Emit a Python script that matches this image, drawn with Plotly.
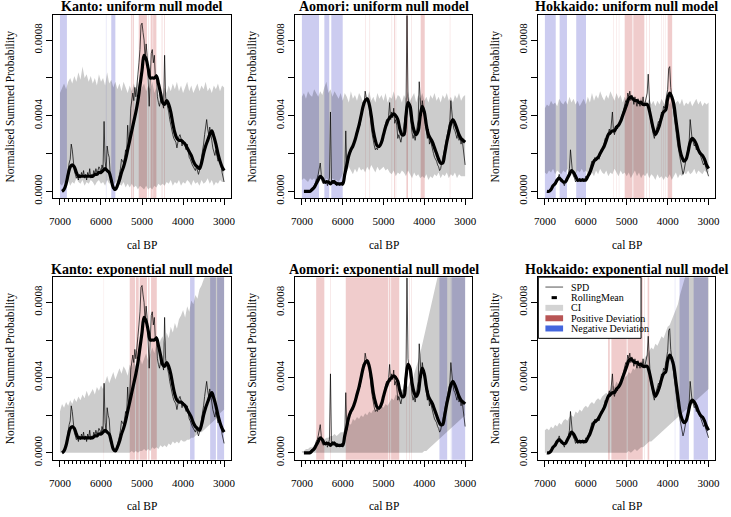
import plotly.graph_objects as go

# ---------------- data (probability values in units of 1e-5) ----------------
UNIT = 1e-5
CI_YEARS = list(range(7000, 2999, -50))      # 81 years
RM_YEARS = list(range(6950, 2999, -50))      # 80 years
SPD_YEARS = list(range(6950, 2999, -25))     # 159 years

# --- Kanto ---
KANTO_SPD = [
    0, 0, 1, 2, 4, 8, 12, 15, 17, 25,
    22, 14, 11, 9, 7, 8, 6, 9, 7, 10,
    8, 11, 7, 9, 6, 10, 8, 12, 7, 9,
    8, 11, 9, 12, 10, 11, 13, 12, 10, 14,
    12, 37, 16, 11, 24, 20, 18, 9, 6, 3,
    2, 1, 1, 2, 4, 6, 9, 12, 17, 16,
    15, 18, 22, 20, 35, 24, 30, 44, 50, 52,
    48, 55, 50, 58, 62, 68, 75, 88, 89, 84,
    80, 70, 78, 72, 55, 45, 60, 73, 75, 68,
    72, 60, 62, 50, 47, 45, 48, 52, 47, 44,
    72, 50, 47, 45, 42, 38, 35, 31, 30, 28,
    27, 26, 23, 27, 29, 30, 28, 24, 27, 26,
    24, 22, 25, 20, 18, 17, 15, 14, 13, 12,
    11, 13, 10, 9, 11, 14, 18, 21, 25, 30,
    36, 38, 33, 30, 34, 29, 27, 23, 21, 19,
    22, 18, 16, 17, 15, 14, 10, 7, 5]
KANTO_RM = [
    0, 1, 4, 9, 13, 14, 13, 10, 8, 8,
    8, 8, 8, 8, 8, 8, 9, 9, 10, 10,
    11, 12, 11, 10, 6, 2, 1, 3, 6, 10,
    13, 17, 22, 27, 32, 37, 42, 48, 56, 64,
    72, 70, 65, 60, 60, 60, 61, 57, 52, 47,
    46, 48, 46, 42, 36, 31, 28, 27, 27, 26,
    25, 23, 21, 19, 16, 14, 13, 12, 15, 20,
    24, 27, 30, 32, 29, 25, 20, 16, 13, 11]

# --- Aomori ---
AOMORI_SPD = [
    0, 0, 0, 0, 0, 0, 1, 1, 2, 2,
    3, 4, 6, 7, 9, 12, 15, 9, 5, 4,
    5, 4, 6, 3, 5, 7, 42, 5, 6, 4,
    6, 4, 3, 5, 4, 3, 4, 5, 3, 6,
    9, 32, 12, 16, 20, 22, 21, 24, 23, 26,
    27, 29, 30, 33, 36, 35, 40, 44, 47, 46,
    53, 50, 49, 48, 45, 38, 34, 30, 26, 24,
    22, 23, 22, 24, 23, 25, 27, 26, 30, 33,
    36, 38, 35, 40, 47, 38, 42, 39, 44, 36,
    38, 35, 28, 30, 27, 26, 29, 31, 35, 38,
    42, 93, 50, 46, 40, 34, 31, 28, 30, 27,
    30, 34, 38, 58, 46, 40, 48, 44, 38, 34,
    30, 28, 33, 25, 27, 24, 22, 20, 18, 17,
    16, 14, 13, 11, 12, 15, 17, 20, 23, 26,
    28, 30, 35, 37, 48, 40, 36, 33, 32, 30,
    28, 31, 27, 29, 25, 28, 24, 18, 14]
AOMORI_RM = [
    0, 0, 0, 0, 1, 2, 4, 6, 8, 7,
    5, 5, 5, 4, 5, 5, 4, 4, 4, 4,
    9, 14, 19, 22, 24, 27, 31, 35, 40, 45,
    48, 49, 46, 40, 32, 27, 24, 24, 26, 30,
    34, 37, 39, 40, 41, 40, 38, 33, 30, 30,
    40, 47, 45, 37, 32, 30, 32, 40, 45, 42,
    35, 30, 28, 26, 23, 20, 17, 15, 15, 20,
    26, 31, 36, 38, 36, 33, 30, 28, 27, 26]

# --- Hokkaido ---
HOKKAIDO_SPD = [
    0, 0, 0, 1, 1, 2, 3, 4, 5, 4,
    6, 8, 9, 7, 5, 6, 4, 3, 5, 7,
    6, 9, 12, 22, 15, 10, 8, 7, 5, 6,
    5, 6, 7, 5, 6, 7, 5, 6, 8, 7,
    9, 10, 12, 15, 16, 15, 17, 18, 16, 17,
    18, 17, 20, 22, 21, 24, 26, 28, 27, 29,
    31, 33, 30, 35, 42, 32, 30, 33, 35, 33,
    36, 35, 38, 40, 41, 44, 45, 48, 47, 52,
    50, 53, 48, 51, 49, 46, 50, 48, 45, 49,
    47, 45, 48, 46, 50, 45, 47, 49, 52, 62,
    48, 40, 36, 34, 30, 28, 31, 33, 35, 37,
    36, 40, 42, 41, 45, 44, 47, 50, 54, 65,
    66, 55, 50, 45, 40, 36, 33, 28, 24, 21,
    18, 14, 10, 9, 11, 14, 17, 20, 23, 26,
    38, 30, 27, 26, 24, 25, 22, 23, 21, 20,
    19, 17, 16, 14, 15, 13, 11, 9, 8]
HOKKAIDO_RM = [
    0, 0, 1, 3, 4, 6, 7, 6, 5, 5,
    7, 9, 11, 10, 8, 6, 6, 6, 6, 6,
    8, 10, 13, 16, 17, 18, 20, 22, 24, 27,
    30, 31, 32, 32, 34, 35, 37, 40, 43, 46,
    49, 50, 49, 48, 48, 47, 47, 46, 46, 46,
    43, 38, 33, 30, 32, 35, 39, 42, 43, 49,
    52, 50, 46, 38, 30, 22, 18, 16, 17, 21,
    26, 28, 27, 25, 22, 20, 19, 17, 14, 12]

# --- simulation envelopes (CI), uniform null model ---
KANTO_UNI_HI = [
    52, 55, 57, 54, 58, 60, 57, 61, 58, 63,
    59, 66, 60, 62, 58, 61, 57, 60, 56, 62,
    58, 60, 56, 63, 57, 59, 55, 58, 54, 57,
    53, 58, 55, 52, 56, 53, 57, 54, 58, 52,
    55, 57, 53, 56, 54, 58, 52, 55, 51, 54,
    50, 55, 52, 56, 53, 57, 54, 58, 53, 56,
    52, 55, 58, 53, 56, 52, 55, 57, 53, 56,
    54, 58, 53, 55, 52, 56, 54, 57, 53, 56,
    55]
KANTO_UNI_LO = [
    4, 3, 5, 4, 6, 3, 5, 4, 7, 5,
    4, 6, 3, 5, 4, 6, 5, 3, 5, 6,
    4, 5, 3, 6, 4, 5, 3, 5, 2, 4,
    3, 5, 2, 4, 2, 4, 2, 3, 1, 3,
    2, 1, 3, 1, 2, 1, 3, 2, 4, 3,
    4, 3, 5, 4, 6, 3, 5, 4, 6, 3,
    5, 4, 6, 5, 3, 6, 4, 5, 3, 6,
    4, 5, 7, 4, 6, 3, 5, 4, 6, 5,
    5]
AOMORI_UNI_HI = [
    50, 52, 49, 53, 51, 50, 54, 52, 50, 53,
    51, 55, 58, 52, 54, 50, 53, 51, 49, 52,
    48, 52, 50, 47, 53, 49, 51, 48, 52, 50,
    47, 51, 49, 53, 48, 50, 47, 52, 49, 51,
    48, 52, 47, 50, 49, 53, 48, 51, 50, 47,
    51, 49, 53, 48, 50, 52, 47, 51, 49, 52,
    48, 50, 47, 51, 49, 52, 48, 50, 47, 51,
    49, 52, 48, 50, 47, 51, 49, 52, 48, 50,
    51]
AOMORI_UNI_LO = [
    6, 7, 6, 5, 7, 6, 7, 5, 6, 7,
    6, 5, 7, 6, 5, 7, 6, 6, 5, 7,
    9, 12, 10, 13, 11, 9, 12, 10, 13, 11,
    12, 10, 13, 11, 14, 12, 10, 13, 11, 12,
    13, 11, 12, 10, 9, 11, 8, 10, 9, 11,
    10, 8, 11, 9, 7, 10, 8, 9, 7, 8,
    7, 9, 6, 8, 7, 9, 8, 10, 7, 9,
    8, 10, 7, 9, 8, 10, 7, 9, 8, 8,
    8]
HOKKAIDO_UNI_HI = [
    44, 46, 45, 48, 46, 47, 45, 49, 47, 46,
    48, 46, 50, 47, 49, 46, 48, 45, 47, 49,
    46, 50, 47, 52, 48, 51, 49, 53, 50, 48,
    51, 49, 53, 50, 48, 52, 49, 51, 47, 50,
    48, 51, 47, 50, 46, 49, 47, 50, 46, 48,
    47, 49, 46, 48, 45, 48, 46, 49, 47, 45,
    48, 46, 49, 45, 47, 48, 46, 49, 45, 47,
    46, 48, 45, 47, 49, 46, 48, 45, 47, 46,
    47]
HOKKAIDO_UNI_LO = [
    10, 9, 11, 10, 12, 9, 11, 10, 9, 11,
    10, 12, 9, 11, 10, 9, 11, 10, 12, 10,
    11, 9, 12, 10, 8, 11, 9, 12, 10, 9,
    11, 8, 10, 9, 12, 10, 8, 11, 9, 10,
    8, 10, 7, 9, 11, 8, 10, 7, 9, 8,
    10, 7, 9, 8, 6, 9, 7, 8, 6, 8,
    7, 9, 6, 8, 10, 7, 9, 8, 10, 9,
    11, 9, 10, 12, 9, 11, 10, 9, 11, 10,
    10]

# --- simulation envelopes (CI), exponential null model ---
KANTO_EXP_HI = [
    22, 26, 24, 27, 25, 28, 26, 29, 27, 30,
    28, 31, 29, 33, 30, 32, 34, 31, 35, 33,
    36, 34, 38, 41, 37, 40, 43, 39, 42, 45,
    42, 46, 44, 41, 47, 45, 49, 46, 48, 51,
    47, 50, 53, 49, 52, 56, 53, 58, 55, 60,
    62, 58, 64, 61, 67, 64, 69, 66, 71, 73,
    76, 72, 78, 75, 81, 79, 84, 82, 87, 89,
    92, 95, 97, 99, 99, 99, 99, 99, 99, 99,
    99]
KANTO_EXP_LO = [
    0, 0, 0, 0, 0, 0, 0, 0, 0, 0,
    0, 0, 0, 0, 0, 0, 0, 0, 0, 0,
    0, 0, 0, 0, 0, 0, 0, 0, 0, 0,
    0, 0, 0, 0, 0, 1, 0, 1, 0, 1,
    1, 2, 1, 2, 1, 3, 2, 3, 2, 4,
    3, 4, 3, 5, 4, 6, 5, 6, 5, 7,
    6, 6, 7, 7, 8, 8, 9, 10, 11, 11,
    12, 13, 14, 15, 16, 17, 18, 19, 21, 22,
    23]
AOMORI_EXP_HI = [
    1, 1, 2, 2, 3, 3, 4, 4, 5, 6,
    6, 7, 8, 8, 9, 9, 10, 9, 10, 11,
    11, 12, 14, 16, 15, 18, 17, 19, 18, 20,
    19, 21, 20, 22, 21, 23, 22, 24, 23, 25,
    24, 26, 25, 27, 29, 28, 31, 30, 33, 34,
    33, 36, 35, 38, 37, 42, 45, 49, 53, 58,
    63, 67, 72, 77, 82, 87, 92, 96, 99, 99,
    99, 99, 99, 99, 99, 99, 99, 99, 99, 99,
    99]
AOMORI_EXP_LO = [
    0, 0, 0, 0, 0, 0, 0, 0, 0, 0,
    0, 0, 0, 0, 0, 0, 0, 0, 0, 0,
    0, 0, 0, 0, 0, 0, 0, 0, 0, 0,
    0, 0, 0, 0, 0, 0, 0, 0, 0, 0,
    0, 0, 0, 0, 0, 0, 0, 0, 0, 0,
    0, 0, 0, 0, 0, 0, 0, 0, 0, 0,
    1, 1, 2, 3, 4, 5, 6, 7, 8, 9,
    10, 11, 12, 13, 14, 15, 16, 17, 18, 19,
    20]
HOKKAIDO_EXP_HI = [
    12, 13, 12, 14, 13, 15, 14, 16, 15, 17,
    18, 17, 19, 20, 19, 22, 21, 23, 22, 24,
    25, 24, 26, 27, 26, 28, 29, 28, 30, 31,
    32, 31, 34, 36, 35, 38, 36, 39, 38, 40,
    41, 43, 42, 45, 44, 47, 46, 49, 48, 51,
    52, 54, 56, 55, 58, 57, 60, 62, 61, 64,
    67, 68, 71, 73, 76, 79, 84, 88, 92, 96,
    99, 99, 99, 99, 99, 99, 99, 99, 99, 99,
    99]
HOKKAIDO_EXP_LO = [
    0, 0, 0, 0, 0, 0, 0, 0, 0, 0,
    0, 0, 0, 0, 0, 0, 0, 0, 0, 0,
    0, 0, 0, 0, 0, 0, 0, 0, 0, 0,
    0, 0, 0, 0, 0, 0, 0, 0, 0, 0,
    0, 1, 0, 1, 2, 1, 2, 3, 3, 4,
    5, 6, 6, 7, 8, 9, 10, 11, 12, 13,
    14, 15, 16, 17, 18, 19, 20, 21, 22, 23,
    24, 25, 26, 27, 28, 29, 30, 31, 32, 33,
    34]

# --- significant deviations (cal BP intervals: start, end) ---
KANTO_UNI_POS = [(5270, 5250), (5230, 5200), (5080, 4880), (4850, 4840),
                 (4790, 4740), (4730, 4650), (4520, 4505), (4460, 4445)]
KANTO_UNI_NEG = [(7000, 6830), (5880, 5870), (5750, 5650)]
AOMORI_UNI_POS = [(5450, 5440), (5340, 5330), (4800, 4790), (4740, 4720),
                  (4700, 4690), (4440, 4400), (4320, 4310), (4090, 3990),
                  (3375, 3365)]
AOMORI_UNI_NEG = [(7000, 6580), (6450, 6330), (6280, 6000)]
HOKKAIDO_UNI_POS = [(5320, 5312), (5258, 5250), (5192, 5184), (5050, 4860),
                    (4840, 4570), (4515, 4505), (4452, 4440), (4162, 4154),
                    (4114, 4106), (4066, 4058), (4000, 3890)]
HOKKAIDO_UNI_NEG = [(7000, 6735), (6640, 6460), (6235, 5995)]
KANTO_EXP_POS = [(5300, 5170), (5150, 5080), (5060, 4880), (4850, 4820),
                 (4780, 4640), (5932, 5926)]
KANTO_EXP_NEG = [(3830, 3720), (3340, 3200), (3170, 3000)]
AOMORI_EXP_POS = [(6650, 6450), (6310, 6300), (5925, 4885), (4870, 4830),
                  (4815, 4615), (4440, 4430), (4375, 4365), (4320, 4310)]
AOMORI_EXP_NEG = [(3630, 3440), (3350, 3335), (3320, 3000)]
HOKKAIDO_EXP_POS = [(5455, 5415), (5375, 5000), (4980, 4610), (4575, 4565),
                    (4490, 4450)]
HOKKAIDO_EXP_NEG = [(3825, 3815), (3710, 3480), (3365, 3015)]

REGION_SERIES = {
    "Kanto": (KANTO_SPD, KANTO_RM),
    "Aomori": (AOMORI_SPD, AOMORI_RM),
    "Hokkaido": (HOKKAIDO_SPD, HOKKAIDO_RM),
}
PANELS = [
    ("Kanto", "uniform", KANTO_UNI_LO, KANTO_UNI_HI, KANTO_UNI_POS, KANTO_UNI_NEG),
    ("Aomori", "uniform", AOMORI_UNI_LO, AOMORI_UNI_HI, AOMORI_UNI_POS, AOMORI_UNI_NEG),
    ("Hokkaido", "uniform", HOKKAIDO_UNI_LO, HOKKAIDO_UNI_HI, HOKKAIDO_UNI_POS, HOKKAIDO_UNI_NEG),
    ("Kanto", "exponential", KANTO_EXP_LO, KANTO_EXP_HI, KANTO_EXP_POS, KANTO_EXP_NEG),
    ("Aomori", "exponential", AOMORI_EXP_LO, AOMORI_EXP_HI, AOMORI_EXP_POS, AOMORI_EXP_NEG),
    ("Hokkaido", "exponential", HOKKAIDO_EXP_LO, HOKKAIDO_EXP_HI, HOKKAIDO_EXP_POS, HOKKAIDO_EXP_NEG),
]

X_TICKS = [7000, 6000, 5000, 4000, 3000]
X_MINOR = list(range(3100, 7000, 100))
Y_TICKS = [0, 0.0002, 0.0004, 0.0006, 0.0008]
Y_TICKTEXT = ["0.0000", "", "0.0004", "", "0.0008"]

# ---------------- layout geometry ----------------
W, H = 731, 517
COL_PX = [(50, 229.5), (295, 473.5), (541, 720)]
ROW_PX = [(15, 201), (281, 466)]
FONT = "Liberation Serif, Times New Roman, serif"
POS_COL = "rgba(179,0,0,0.2)"
NEG_COL = "rgba(0,0,179,0.2)"

fig = go.Figure()
layout = dict(width=W, height=H, margin=dict(l=0, r=0, t=0, b=0),
              paper_bgcolor="white", plot_bgcolor="white", showlegend=False,
              font=dict(family=FONT, color="black", size=11))
shapes, annotations = [], []

for i, (region, model, lo, hi, pos, neg) in enumerate(PANELS):
    n = i + 1
    sfx = "" if n == 1 else str(n)
    r, c = divmod(i, 3)
    x0p, x1p = COL_PX[c]
    y0p, y1p = ROW_PX[r]
    xa, ya = "x" + sfx, "y" + sfx
    spd, rm = REGION_SERIES[region]
    assert len(lo) == len(CI_YEARS) and len(hi) == len(CI_YEARS), (region, model)
    assert len(spd) == len(SPD_YEARS) and len(rm) == len(RM_YEARS), region

    fig.add_trace(go.Scatter(x=CI_YEARS, y=[v * UNIT for v in lo], mode="lines",
                             line=dict(width=0), xaxis=xa, yaxis=ya,
                             hoverinfo="skip"))
    fig.add_trace(go.Scatter(x=CI_YEARS, y=[v * UNIT for v in hi], mode="lines",
                             line=dict(width=0), fill="tonexty",
                             fillcolor="rgba(0,0,0,0.2)", xaxis=xa, yaxis=ya,
                             hoverinfo="skip"))
    fig.add_trace(go.Scatter(x=SPD_YEARS, y=[v * UNIT for v in spd], mode="lines",
                             line=dict(color="black", width=0.7), xaxis=xa, yaxis=ya))
    fig.add_trace(go.Scatter(x=RM_YEARS, y=[v * UNIT for v in rm], mode="lines",
                             line=dict(color="black", width=3.2, shape="spline"),
                             xaxis=xa, yaxis=ya))

    for (a, b), col in [(iv, POS_COL) for iv in pos] + [(iv, NEG_COL) for iv in neg]:
        shapes.append(dict(type="rect", xref=xa, yref=ya + " domain", x0=a, x1=b,
                           y0=0, y1=1, fillcolor=col, line=dict(width=0), layer="below"))

    layout["xaxis" + sfx] = dict(
        domain=[x0p / W, x1p / W], anchor=ya, range=[7160, 2840],
        tickvals=X_TICKS, ticktext=[str(t) for t in X_TICKS], ticks="outside",
        ticklen=6, tickwidth=1, tickcolor="black", showline=True, mirror=True,
        linecolor="black", linewidth=1, showgrid=False, zeroline=False,
        tickfont=dict(family=FONT, size=11), ticklabelstandoff=7,
        minor=dict(tickvals=X_MINOR, ticks="outside", ticklen=3, tickwidth=1,
                   tickcolor="black", showgrid=False))
    layout["yaxis" + sfx] = dict(
        domain=[1 - y1p / H, 1 - y0p / H], anchor=xa, range=[-0.0000365, 0.000934],
        tickvals=Y_TICKS, ticktext=Y_TICKTEXT, tickangle=-90, ticks="outside",
        ticklen=6, tickwidth=1, tickcolor="black", showline=True, mirror=True,
        linecolor="black", linewidth=1, showgrid=False, zeroline=False,
        tickfont=dict(family=FONT, size=11))

    cx = (x0p + x1p) / 2 / W
    annotations.append(dict(text="<b>%s: %s null model</b>" % (region, model),
                            x=cx, y=1 - (y0p - 8) / H, xref="paper", yref="paper",
                            showarrow=False, xanchor="center", yanchor="middle",
                            font=dict(family=FONT, size=14)))
    annotations.append(dict(text="cal BP", x=cx, y=1 - (y1p + 47) / H, xref="paper",
                            yref="paper", showarrow=False, xanchor="center",
                            yanchor="middle", font=dict(family=FONT, size=11.5)))
    annotations.append(dict(text="Normalised Summed Probability", x=(x0p - 43) / W,
                            y=1 - (y0p + y1p) / 2 / H, xref="paper", yref="paper",
                            showarrow=False, textangle=-90, xanchor="center",
                            yanchor="middle", font=dict(family=FONT, size=11.5)))

# ---------------- legend (inside last panel) ----------------
LEG_ITEMS = [("SPD", "#555555", 1, 0.0, 1.0),
             ("RollingMean", "black", 3, 0.35, 0.65),
             ("CI", "lightgrey", 6, 0.0, 1.0),
             ("Positive Deviation", "#b85555", 6, 0.0, 1.0),
             ("Negative Deviation", "#4466dd", 6, 0.0, 1.0)]
shapes.append(dict(type="rect", xref="x6 domain", yref="y6 domain", x0=0, x1=0.581,
                   y0=0.665, y1=1, fillcolor="white", line=dict(color="black", width=1),
                   layer="above"))
row_y = [0.946, 0.888, 0.832, 0.775, 0.719]
for (label, col, lw, f0, f1), yy in zip(LEG_ITEMS, row_y):
    sx0, sx1 = 0.04, 0.14
    shapes.append(dict(type="line", xref="x6 domain", yref="y6 domain",
                       x0=sx0 + (sx1 - sx0) * f0, x1=sx0 + (sx1 - sx0) * f1,
                       y0=yy, y1=yy, line=dict(color=col, width=lw), layer="above"))
    annotations.append(dict(text=label, x=0.172, y=yy, xref="x6 domain",
                            yref="y6 domain", showarrow=False, xanchor="left",
                            yanchor="middle", font=dict(family=FONT, size=10)))

layout["shapes"] = shapes
layout["annotations"] = annotations
fig.update_layout(**layout)
fig.write_html("out.html",
               config={"displayModeBar": False, "staticPlot": True},
               post_script="document.body.style.margin='0';"
                           "document.body.style.overflow='hidden';")
